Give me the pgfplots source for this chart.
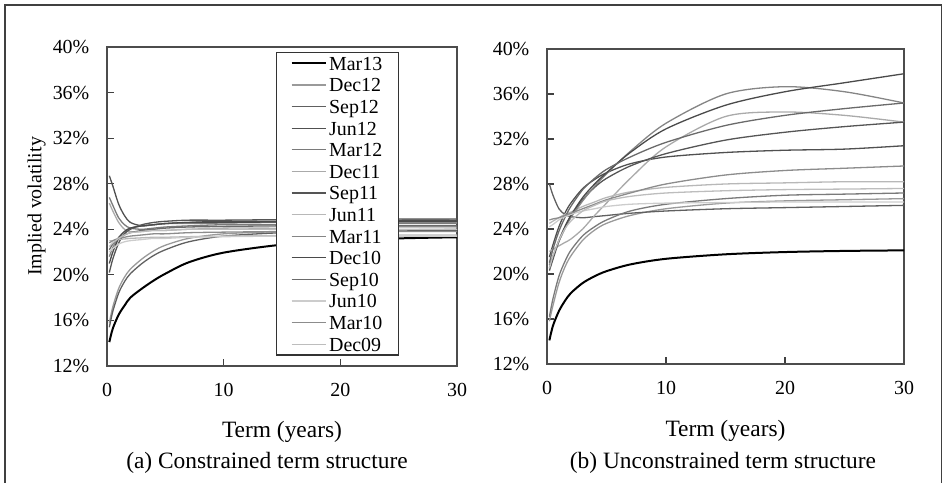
\documentclass[border=0pt]{standalone}
\usepackage{pgfplots}
\usepackage{pgfplotstable}
\pgfplotsset{compat=1.18}
\usepackage{fontspec}
\setmainfont{Liberation Serif}

% implied volatility (%) by term (years), constrained fit
\pgfplotstableread{
t    Mar13 Dec12 Sep12 Jun12 Mar12 Dec11 Sep11 Jun11 Mar11 Dec10 Sep10 Jun10 Mar10 Dec09
0.2  14.1  15.8  15.4  28.7  26.8  26.3  20.2  23.0  21.6  21.0  22.2  22.0  22.8  22.5
0.5  15.3  17.2  16.8  27.8  26.1  25.6  21.4  23.0  22.4  22.0  22.7  22.3  23.0  22.8
1    16.5  18.8  18.4  26.2  25.0  24.6  22.8  23.1  23.3  23.2  23.2  22.7  23.2  23.2
1.5  17.3  19.8  19.4  25.2  24.4  24.0  23.6  23.15 23.8  23.8  23.5  22.9  23.3  23.5
2    18.0  20.5  20.1  24.6  24.1  23.8  24.0  23.2  24.1  24.1  23.7  23.0  23.4  23.7
3    18.8  21.4  21.0  24.3  24.0  23.8  24.4  23.25 24.3  24.3  23.9  23.1  23.5  23.8
4    19.5  22.1  21.7  24.4  24.1  23.9  24.6  23.3  24.4  24.4  24.0  23.2  23.6  23.9
5    20.1  22.6  22.2  24.5  24.2  23.9  24.7  23.3  24.5  24.5  24.1  23.2  23.6  23.9
7    21.1  23.2  22.9  24.6  24.3  24.0  24.8  23.35 24.5  24.6  24.2  23.3  23.7  24.0
10   21.95 23.6  23.4  24.7  24.4  24.1  24.8  23.4  24.55 24.6  24.25 23.35 23.75 24.0
15   22.65 23.8  23.7  24.7  24.4  24.1  24.85 23.45 24.6  24.65 24.3  23.4  23.8  24.0
20   23.0  23.9  23.8  24.75 24.45 24.15 24.9  23.5  24.6  24.7  24.3  23.4  23.8  24.0
25   23.2  23.95 23.85 24.8  24.5  24.2  24.9  23.5  24.6  24.7  24.3  23.4  23.8  24.0
30   23.3  24.0  23.9  24.8  24.5  24.2  24.9  23.5  24.6  24.7  24.3  23.4  23.8  24.0
}\constrained

% implied volatility (%) by term (years), unconstrained fit
\pgfplotstableread{
t    Mar13 Dec12 Sep12 Jun12 Mar12 Dec11 Sep11 Jun11 Mar11 Dec10 Sep10 Jun10 Mar10 Dec09
0.2  14.1  15.8  28.0  21.5  16.2  22.0  20.3  24.5  20.8  20.5  21.0  24.2  24.8  20.5
0.5  15.4  17.2  27.0  22.6  17.8  22.2  21.3  24.7  21.6  21.5  22.2  24.4  24.9  21.6
1    16.7  19.2  25.8  24.2  19.8  22.5  22.9  25.0  22.9  23.0  23.8  24.8  25.0  23.0
1.5  17.6  20.6  25.3  25.4  21.1  22.8  24.1  25.3  24.0  24.2  25.0  25.1  25.2  24.0
2    18.3  21.6  25.1  26.3  22.1  23.1  25.1  25.5  25.0  25.2  26.0  25.3  25.4  24.7
3    19.2  23.0  25.0  27.6  23.4  24.0  26.6  26.0  26.5  26.8  27.5  25.6  25.8  25.6
4    19.8  23.9  25.1  28.4  24.2  25.2  27.7  26.4  27.8  28.0  28.5  25.8  26.2  26.1
5    20.25 24.5  25.2  29.0  24.8  26.3  28.5  26.8  28.9  29.0  29.3  26.0  26.6  26.5
7    20.85 25.2  25.4  29.8  25.6  28.5  29.6  27.3  30.9  30.8  30.4  26.2  27.2  26.9
10   21.35 25.8  25.6  30.4  26.2  31.3  30.7  27.7  33.4  32.9  31.7  26.3  28.0  27.2
15   21.75 26.3  25.8  30.8  26.7  34.0  31.9  28.0  36.0  35.0  33.2  26.35 28.8  27.4
20   21.95 26.5  25.9  31.0  27.0  34.4  32.6  28.1  36.65 36.2  34.1  26.4  29.2  27.5
25   22.05 26.6  26.0  31.1  27.1  34.1  33.1  28.2  36.2  37.0  34.7  26.4  29.4  27.55
30   22.1  26.7  26.1  31.4  27.2  33.5  33.5  28.2  35.2  37.8  35.2  26.4  29.6  27.6
}\unconstrained

\definecolor{cDec12}{HTML}{9A9A9A}
\definecolor{cSep12}{HTML}{606060}
\definecolor{cJun12}{HTML}{505050}
\definecolor{cMar12}{HTML}{7A7A7A}
\definecolor{cDec11}{HTML}{AAAAAA}
\definecolor{cSep11}{HTML}{555555}
\definecolor{cJun11}{HTML}{B8B8B8}
\definecolor{cMar11}{HTML}{858585}
\definecolor{cDec10}{HTML}{4A4A4A}
\definecolor{cSep10}{HTML}{6A6A6A}
\definecolor{cJun10}{HTML}{CCCCCC}
\definecolor{cMar10}{HTML}{8C8C8C}
\definecolor{cDec09}{HTML}{BDBDBD}

\pgfplotsset{
  termpanel/.style={
    scale only axis,
    xmin=0, xmax=30, ymin=12, ymax=40,
    xtick={0,10,20,30}, xticklabels={0,10,20,30},
    ytick={12,16,20,24,28,32,36,40},
    yticklabels={12\%,16\%,20\%,24\%,28\%,32\%,36\%,40\%},
    tick align=inside, tick pos=left,
    major tick length=6.5bp,
    tick style={black!75, line width=1.1bp},
    axis line style={black!70, line width=1.2bp},
    ticklabel style={font=\fontsize{20}{24}\selectfont},
    yticklabel style={anchor=east, inner sep=0pt, xshift=-17.5bp},
    xticklabel style={anchor=north, inner sep=0pt, yshift=-17bp},
    label style={font=\fontsize{23.5}{28}\selectfont},
    every axis plot/.append style={line width=1.3bp, smooth, no markers},
  },
}

\begin{document}
\begin{tikzpicture}[x=1bp,y=1bp]
\path[use as bounding box] (0,0) rectangle (945,483);
\draw[black!75, line width=1.3bp] (5,-3) -- (5,478) -- (941.7,478) -- (941.7,-3);

\begin{axis}[termpanel,
  at={(107bp,117bp)}, anchor=south west,
  width=350bp, height=319bp,
  xlabel={Term (years)},
  xlabel style={at={(axis description cs:0.5,-0.2226)}, anchor=base},
  ylabel={Implied volatility},
  ylabel style={at={(axis description cs:-0.201,0.5)}, anchor=center,
    font=\fontsize{20}{24}\selectfont},
  legend image code/.code={\draw[#1] (0bp,0bp) -- (34bp,0bp);},
  legend style={at={(0.4829,0.9843)}, anchor=north west,
    draw=black!80, line width=1.2bp, fill=white,
    font=\fontsize{20}{24}\selectfont,
    inner xsep=14bp, inner ysep=0pt, column sep=0pt, row sep=0pt,
    cells={anchor=west},
    nodes={inner xsep=2.5bp, inner ysep=0pt, text height=17.6bp, text depth=4bp}},
]
\addplot[black, line width=2bp] table[x=t, y=Mar13] {\constrained};
\addlegendentry{Mar13}
\addplot[cDec12] table[x=t, y=Dec12] {\constrained};
\addlegendentry{Dec12}
\addplot[cSep12] table[x=t, y=Sep12] {\constrained};
\addlegendentry{Sep12}
\addplot[cJun12] table[x=t, y=Jun12] {\constrained};
\addlegendentry{Jun12}
\addplot[cMar12] table[x=t, y=Mar12] {\constrained};
\addlegendentry{Mar12}
\addplot[cDec11] table[x=t, y=Dec11] {\constrained};
\addlegendentry{Dec11}
\addplot[cSep11] table[x=t, y=Sep11] {\constrained};
\addlegendentry{Sep11}
\addplot[cJun11] table[x=t, y=Jun11] {\constrained};
\addlegendentry{Jun11}
\addplot[cMar11] table[x=t, y=Mar11] {\constrained};
\addlegendentry{Mar11}
\addplot[cDec10] table[x=t, y=Dec10] {\constrained};
\addlegendentry{Dec10}
\addplot[cSep10] table[x=t, y=Sep10] {\constrained};
\addlegendentry{Sep10}
\addplot[cJun10] table[x=t, y=Jun10] {\constrained};
\addlegendentry{Jun10}
\addplot[cMar10] table[x=t, y=Mar10] {\constrained};
\addlegendentry{Mar10}
\addplot[cDec09] table[x=t, y=Dec09] {\constrained};
\addlegendentry{Dec09}
\end{axis}

\begin{axis}[termpanel,
  at={(547bp,119bp)}, anchor=south west,
  width=357bp, height=315bp,
  xlabel={Term (years)},
  xlabel style={at={(axis description cs:0.5,-0.2308)}, anchor=base},
]
\addplot[cDec12] table[x=t, y=Dec12] {\unconstrained};
\addplot[cSep12] table[x=t, y=Sep12] {\unconstrained};
\addplot[cJun12] table[x=t, y=Jun12] {\unconstrained};
\addplot[cMar12] table[x=t, y=Mar12] {\unconstrained};
\addplot[cDec11] table[x=t, y=Dec11] {\unconstrained};
\addplot[cSep11] table[x=t, y=Sep11] {\unconstrained};
\addplot[cJun11] table[x=t, y=Jun11] {\unconstrained};
\addplot[cMar11] table[x=t, y=Mar11] {\unconstrained};
\addplot[cDec10] table[x=t, y=Dec10] {\unconstrained};
\addplot[cSep10] table[x=t, y=Sep10] {\unconstrained};
\addplot[cJun10] table[x=t, y=Jun10] {\unconstrained};
\addplot[cMar10] table[x=t, y=Mar10] {\unconstrained};
\addplot[cDec09] table[x=t, y=Dec09] {\unconstrained};
\addplot[black, line width=2bp] table[x=t, y=Mar13] {\unconstrained};
\end{axis}

\node[anchor=base, font=\fontsize{23.5}{28}\selectfont] at (267,14) {(a) Constrained term structure};
\node[anchor=base, font=\fontsize{23.5}{28}\selectfont] at (723,14.5) {(b) Unconstrained term structure};
\end{tikzpicture}
\end{document}
